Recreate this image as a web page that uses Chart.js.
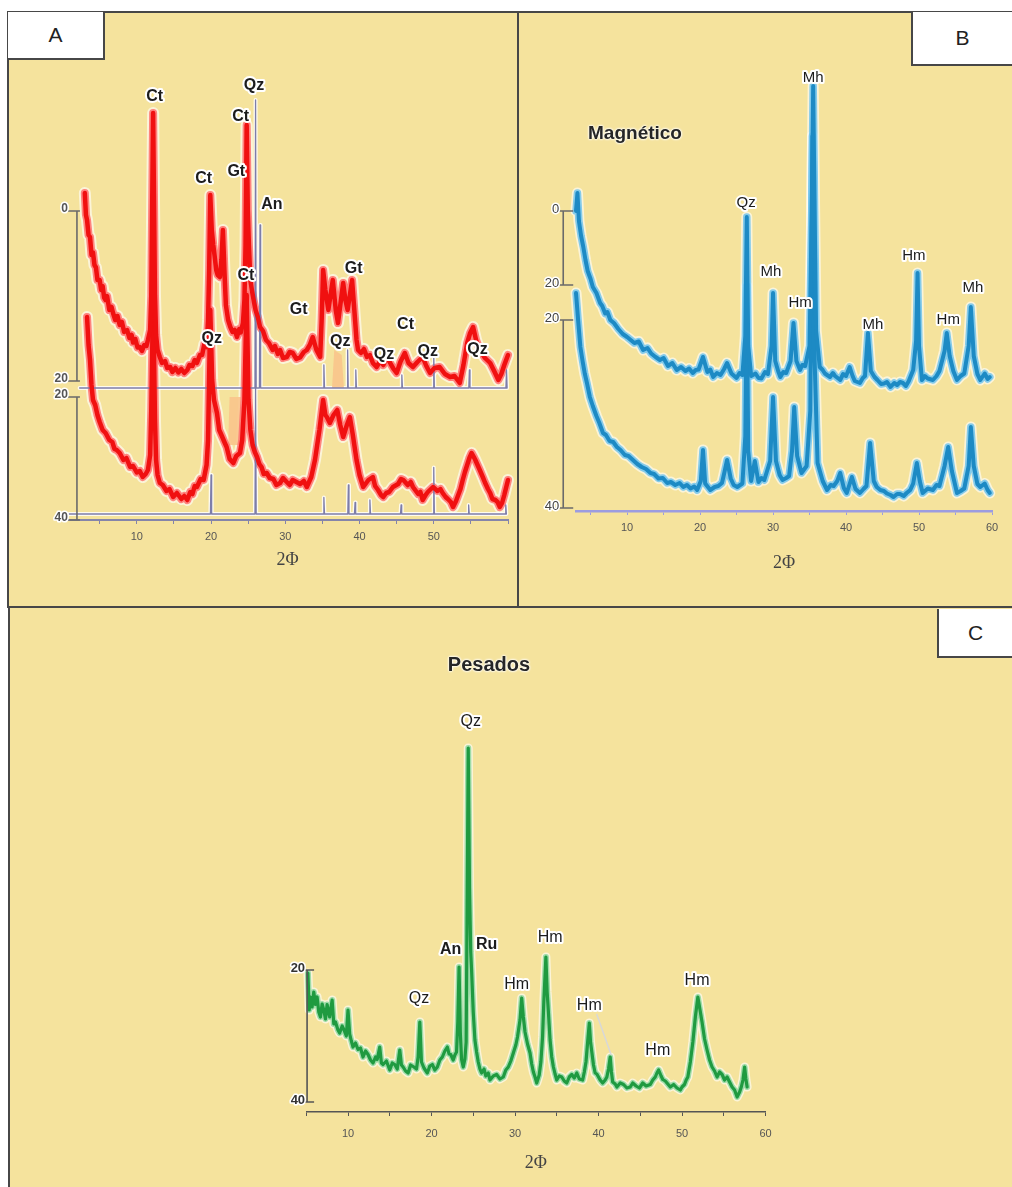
<!DOCTYPE html>
<html>
<head>
<meta charset="utf-8">
<script src="https://cdn.jsdelivr.net/npm/chart.js@4.4.0/dist/chart.umd.min.js"></script>
<style>
  body { margin: 0; width: 1012px; height: 1187px; background: #fff; position: relative; overflow: hidden;
         font-family: Arial, "Liberation Sans", sans-serif; }
  .panel { position: absolute; background: #F5E39D; }
  .rule { position: absolute; background: #474747; z-index: 5; }
  .tag { position: absolute; background: #fff; color: #222; font-size: 21px; z-index: 6;
         display: flex; align-items: center; justify-content: center; box-sizing: border-box; border: 0 solid #474747; }
  .heading { position: absolute; transform: translate(-50%, -50%); font-weight: bold; color: #262626; white-space: nowrap;
             text-shadow: 0 0 2px #fff, 0 0 2px #fff, 0 0 3px #fff; z-index: 4; }
  canvas { position: absolute; z-index: 3; }
</style>
</head>
<body>
<div class="panel" style="left:8px;top:12px;width:510px;height:595px"></div>
<div class="panel" style="left:518px;top:12px;width:494px;height:595px"></div>
<div class="panel" style="left:9px;top:607px;width:1003px;height:580px"></div>

<div class="rule" style="left:7px;top:11px;width:1005px;height:2px"></div>
<div class="rule" style="left:7px;top:11px;width:2px;height:597px"></div>
<div class="rule" style="left:517px;top:11px;width:2px;height:597px"></div>
<div class="rule" style="left:7px;top:606px;width:1005px;height:2px"></div>
<div class="rule" style="left:8px;top:606px;width:2px;height:581px"></div>

<div class="tag" style="left:8px;top:12px;width:97px;height:48px;border-right-width:2px;border-bottom-width:2px">A</div>
<div class="tag" style="left:911px;top:12px;width:101px;height:54px;border-left-width:2px;border-bottom-width:2px">B</div>
<div class="tag" style="left:937px;top:609px;width:75px;height:49px;border-left-width:2px;border-bottom-width:2px">C</div>

<div class="heading" style="left:635px;top:133px;font-size:19px">Magnético</div>
<div class="heading" style="left:489px;top:664px;font-size:20px">Pesados</div>

<canvas id="chartA" width="510" height="595" style="left:8px;top:12px"></canvas>
<canvas id="chartB" width="494" height="595" style="left:518px;top:12px"></canvas>
<canvas id="chartC" width="1004" height="580" style="left:8px;top:607px"></canvas>

<script>
// ---------- panel A (red patterns) ----------
const thetaA_top = [3.0,3.15,3.3,3.5,3.7,3.9,4.1,4.3,4.5,4.7,5.0,5.2,5.4,5.6,5.8,6.0,6.3,6.6,6.8,7.1,7.4,7.7,8.0,8.3,8.7,9.0,9.3,9.5,9.8,10.1,10.4,10.7,11.0,11.3,11.5,11.8,11.95,12.2,12.45,12.6,12.8,13.1,13.4,13.8,14.1,14.5,14.8,15.2,15.6,16.0,16.4,16.8,17.1,17.5,17.8,18.1,18.5,18.8,19.1,19.4,19.6,19.75,19.9,20.1,20.3,20.5,20.7,20.9,21.2,21.4,21.6,21.8,22.0,22.3,22.6,22.9,23.2,23.5,23.8,24.0,24.3,24.5,24.65,24.8,24.95,25.1,25.3,25.5,25.8,26.0,26.3,26.6,27.0,27.4,27.8,28.3,28.6,29.0,29.3,29.7,30.2,30.6,31.0,31.5,32.0,32.5,32.9,33.3,33.7,34.2,34.7,34.9,35.1,35.4,35.8,36.1,36.4,36.8,37.1,37.5,37.8,38.1,38.4,38.7,39.0,39.3,39.6,39.8,40.2,40.6,41.0,41.4,41.8,42.3,42.8,43.2,43.7,44.2,44.6,45.0,45.5,46.1,46.6,47.2,47.8,48.5,49.0,49.5,50.1,50.8,51.5,52.2,52.8,53.5,54.0,54.5,54.9,55.3,55.7,56.2,56.9,57.6,58.2,58.7,59.1,59.5,60.0]
const countsA_top = [65.4,61,60,57,56.6,53,53.5,51,50.5,48,48,46,46.8,44.5,44,44.8,42,42.6,41.4,40,40.8,39,39.6,37.6,38,36.4,37,35.5,36.2,34.5,34.6,33.8,35,34.8,36,38,45,81.4,45,37,34,32.6,31.4,31.8,30.4,30.6,29.6,30.4,29.5,30.2,29.4,30,31,30.8,32,31.4,33,33,35.2,34.6,40,50,65,58,55,52.6,50,49,48.6,52,58,50,43,40,38.6,37.6,38,36.6,38.2,37.5,39.4,44,55,79,62,55,48,46,43.5,42,40.6,38.6,37.8,36,35.4,34,34.8,33.2,34,32.4,32.6,33.6,33.4,32.2,32.5,33.6,34,35,36.6,34,32.6,40,50,46,42,45,48,42,39.4,44,47.4,44,42,45,48,42,36,34,33.4,34.2,32.6,33,31.4,30.6,31.8,31,32.6,31.2,30.2,29.4,31.6,33.4,31.4,30.6,31.6,32.6,30.8,29.4,30.4,30.6,29.2,28.6,28.8,27.4,31,35.4,37.4,38.6,36,34,32.4,31.4,29.6,28,29.2,31,33]

const thetaA_bot = [3.3,3.5,3.7,3.9,4.1,4.4,4.7,5.0,5.4,5.8,6.3,6.7,7.0,7.3,7.7,8.2,8.6,9.1,9.5,10.0,10.4,10.8,11.2,11.5,11.8,11.95,12.2,12.45,12.6,12.8,13.1,13.5,14.0,14.4,14.9,15.4,16.0,16.4,16.8,17.2,17.5,17.8,18.1,18.6,19.0,19.4,19.6,19.9,20.15,20.4,20.8,21.1,21.4,21.8,22.1,22.5,23.0,23.4,23.9,24.2,24.5,24.8,25.05,25.3,25.6,25.9,26.2,26.5,26.8,27.1,27.5,27.9,28.4,28.8,29.3,29.7,30.2,30.6,31.0,31.5,32.0,32.5,32.9,33.5,34.0,34.6,35.1,35.4,35.6,36.0,36.5,37.0,37.4,37.8,38.3,38.7,39.1,39.6,40.0,40.5,40.9,41.2,41.8,42.1,42.5,42.9,43.2,43.6,44.0,44.5,45.2,45.6,45.9,46.5,46.9,47.2,47.9,48.2,48.5,48.9,49.2,49.9,50.5,50.9,51.2,51.6,51.9,52.3,52.6,53.0,53.3,53.6,53.9,54.2,54.5,54.8,55.1,55.4,55.6,55.9,56.2,56.6,56.9,57.3,57.6,57.9,58.3,58.6,58.9,59.2,59.5,59.8,60.0]
const countsA_bot = [40.6,35,32,27,24,23,21,19.6,18,17.4,16,15.6,14.2,14,13.4,12,12.4,10.6,10.8,9.5,9.8,8.6,9.2,10,13,22,45,20,12,9,7.4,7,5.8,6.2,4.6,5.4,4.2,4.8,4,5.6,5.2,6.8,6.6,8.2,8,11,16,42,28,24,21.4,18,17,15.6,14.6,12.2,11.4,12.8,13.4,16,24,45,24,18,15,13.6,12.6,11.2,10.6,9.2,9.4,8.4,8.2,7,7.4,8.4,7.6,7,8,7.6,7.2,7.8,6.6,8.6,12,18,24,21,20.6,19.4,21,22,19,16.6,19,20.6,17,12,9,6.6,7.4,8,8.6,6.8,6,5,4.6,5.4,5.6,6.6,7.2,8.2,8,7,7.6,6.6,5.2,5.6,4,5,5.6,6.6,5.8,6.2,5.4,4.6,4.2,3.6,2.6,3.8,5,6.2,8,9.6,11,12.4,13.4,12.6,12,11,10,8.6,7.5,6.2,5.4,4.2,4,3.6,2.6,3.4,5,6.8,8]

// reference stick patterns (base level, positions, peak tops)
const refBaseA = [26.4, 1.2]
const sticksA_top = [20.0, 26.0, 26.6, 35.2, 38.4, 39.5, 45.7, 50.0, 54.8, 59.8]
const sticksA_topH = [38, 84, 59, 31, 34, 30, 29, 33, 30, 30]
const sticksA_bot = [20.0, 26.0, 35.2, 38.5, 39.4, 41.4, 45.6, 50.0, 54.7, 59.7]
const sticksA_botH = [9, 26.4, 4.5, 7, 3.5, 4, 3, 10.5, 3, 3]

// pale orange patches
const orangeA1x = [36.3, 36.6, 37.6, 37.9]
const orangeA1y = [26.4, 34, 33, 26.4]
const orangeA2x = [22.3, 22.5, 24.0, 24.2]
const orangeA2y = [15, 24.6, 24.6, 15]

const labelsA = [['Ct',12.4,84.6],['Qz',25.8,86.8],['Ct',24.0,80.6],['Ct',19.0,68.2],['Gt',23.4,69.6],['An',28.2,63],
  ['Ct',24.7,48.8],['Gt',31.8,42],['Gt',39.2,50.2],['Qz',20.1,36.2],['Qz',37.4,35.6],['Ct',46.2,39],['Qz',43.3,33],
  ['Qz',49.2,33.6],['Qz',55.9,34]]
const barsA = [{x: 1.94, from: 61.8, to: 27.8, labels: ['0', '20']}, {x: 1.94, from: 24.6, to: 0, labels: ['20', '40']}]

// ---------- panel B (blue patterns) ----------
const thetaB_top = [3.0,3.2,3.4,3.7,4.0,4.3,4.6,5.0,5.3,5.8,6.3,6.6,7.0,7.3,7.7,8.2,8.8,9.4,10.0,10.5,11.0,11.6,12.2,12.8,13.3,13.9,14.5,15.0,15.6,16.2,16.8,17.4,18.0,18.5,19.0,19.4,19.8,20.4,21.0,21.4,21.8,22.3,22.8,23.3,23.7,24.3,25.0,25.4,25.8,26.2,26.4,26.6,27.0,27.6,28.0,28.4,28.9,29.3,29.8,30.0,30.3,30.7,31.0,31.4,31.8,32.4,32.8,33.2,33.7,34.0,34.4,35.0,35.3,35.5,35.7,35.9,36.4,36.8,37.1,37.8,38.2,38.5,39.2,39.6,40.0,40.5,40.9,41.2,41.9,42.3,42.6,43.0,43.4,43.9,44.3,44.8,45.2,45.6,46.1,46.6,47.0,47.4,47.8,48.2,48.6,49.2,49.6,49.8,50.0,50.4,50.8,51.2,51.9,52.4,52.8,53.5,53.8,54.2,54.7,55.2,55.7,56.2,56.8,57.1,57.5,58.0,58.4,59.0,59.4,59.7]
const countsB_top = [60,63.6,58,55,52.8,50.2,48,46.4,44.8,43.6,41.6,41,39.5,39.8,38.2,37.6,36.4,35.4,34.8,34.2,33.6,33.9,32.2,32.6,31.5,30.8,30.2,30.6,29,29.6,28.2,28.8,28,28.5,27.6,28.2,28.3,30.8,27.8,28.3,26.8,27.6,27.2,28.4,29.6,27.5,26.6,27.6,27.2,35,58.8,33,27,27.5,26.6,26.5,27.8,27.4,33,43.6,30,28,26.8,27.8,27.6,30,37.6,30,28.2,29.2,29,33,60,85,60,36,28.8,28.2,27.5,26.8,27.6,27,26.2,27.4,27,28.8,27,26,25.6,26.6,27,35.6,28,26.8,26.2,25.4,25.5,25.8,24.8,25.6,25.2,25.8,25.6,25,26,28.2,34,47.6,33,26.2,27,26.5,26.2,27,28,32,35.6,31,28,26.2,27,27.5,33,40.8,31,27.4,26.2,27.5,26.4,26.8]

const thetaB_bot = [3.0,3.3,3.6,3.9,4.2,4.5,4.9,5.3,5.8,6.2,6.7,7.1,7.6,8.1,8.6,9.1,9.7,10.2,10.8,11.4,12.0,12.6,13.2,13.7,14.3,14.9,15.5,16.0,16.6,17.2,17.7,18.2,18.7,19.2,19.6,20.1,20.4,20.7,21.4,22.0,22.5,23.0,23.3,23.7,24.2,24.6,25.1,25.8,26.2,26.4,26.6,27.0,27.5,28.0,28.4,28.8,29.6,30.0,30.4,30.9,31.3,31.8,32.2,32.6,32.9,33.3,33.9,34.6,35.1,35.4,35.7,36.1,36.8,37.4,37.9,38.3,38.8,39.2,39.7,40.1,40.8,41.3,41.9,42.4,42.8,43.3,43.8,44.2,44.7,45.2,45.6,46.1,46.5,47.0,47.4,47.9,48.3,48.8,49.2,49.7,50.1,50.5,51.2,51.9,52.4,52.8,53.5,54.0,54.5,55.2,55.7,56.2,56.8,57.1,57.5,58.0,58.4,59.0,59.4,59.7]
const countsB_bot = [43.6,38,32.8,30,27.5,25.6,22.8,21,19,17.6,15.6,15.2,14,13.8,12.8,12.2,11.2,11,10.2,9.4,8.8,8.4,7.6,7.4,6.5,6.6,5.6,5.8,5.2,5.6,4.8,5.2,4.5,4.9,4.2,6,12.2,5.5,4.2,4.8,5,5.6,7.5,10.2,6.5,5.2,4.8,5.5,15,45,12,6,10,5.8,6.6,6.2,10,22.8,10,7.2,6.2,6.6,7,12,20.8,11,7.6,9,20,75,30,9.6,6,4.2,5.2,5,6,7.6,4.6,3.6,6.8,4.4,3.6,4.4,5,13.6,6,4.8,4.2,4,3.5,3.2,2.8,3.4,3.4,3,3.6,4.2,5.5,9.6,6,3.6,4.5,4.2,5.2,5,9,12.8,8,3.6,4,4.5,9,16.8,9,5.4,4.8,5.5,4.2,3.6]

const labelsB = [['Mh',35.5,86.6],['Qz',26.3,61.6],['Mh',29.7,47.8],['Hm',33.7,41.6],['Mh',43.7,37.2],['Hm',49.3,51],['Hm',54.0,38.2],['Mh',57.4,44.6]]
const barsB = [{x: 1.25, from: 60, to: 45.2, labels: ['0', '20']}, {x: 1.25, from: 38.2, to: 0.6, labels: ['20', '40']}]

// ---------- panel C (green pattern) ----------
const thetaC = [5.2,5.35,5.5,5.7,5.9,6.1,6.3,6.5,6.7,6.9,7.1,7.3,7.5,7.8,8.1,8.3,8.5,8.8,9.0,9.3,9.5,9.8,10.0,10.2,10.4,10.6,10.9,11.2,11.5,11.8,12.1,12.4,12.7,13.0,13.3,13.5,13.8,14.0,14.2,14.6,15.0,15.3,15.6,15.9,16.2,16.4,16.6,16.9,17.2,17.5,17.9,18.2,18.4,18.6,18.8,19.1,19.5,19.8,20.1,20.4,20.7,21.0,21.3,21.6,21.9,22.1,22.3,22.6,22.8,23.0,23.15,23.3,23.45,23.6,23.8,24.0,24.15,24.4,24.55,24.7,24.8,25.0,25.2,25.4,25.6,25.8,26.0,26.3,26.5,26.8,27.0,27.4,27.8,28.2,28.6,28.9,29.2,29.5,29.8,30.1,30.3,30.6,30.8,31.0,31.2,31.5,31.8,32.0,32.2,32.4,32.6,32.9,33.1,33.3,33.45,33.7,33.85,34.0,34.2,34.4,34.6,34.8,35.0,35.3,35.6,35.9,36.2,36.5,36.8,37.1,37.4,37.7,38.1,38.3,38.5,38.7,38.9,39.05,39.2,39.4,39.6,39.8,40.0,40.2,40.5,40.8,41.0,41.2,41.4,41.55,41.7,42.0,42.2,42.6,43.0,43.4,43.8,44.1,44.5,44.9,45.3,45.7,46.2,46.5,46.8,47.0,47.2,47.5,47.7,48.0,48.2,48.6,49.0,49.4,49.8,50.0,50.3,50.5,50.7,51.0,51.3,51.6,51.9,52.1,52.4,52.7,53.0,53.3,53.6,53.9,54.2,54.5,54.8,55.1,55.4,55.7,56.0,56.3,56.6,56.9,57.1,57.3,57.5,57.65,57.8]
const countsC = [27.8,20.4,23,21,24,21.5,23,20,19,21.6,20.4,18.6,21.5,19,22.4,17.6,18,16.4,15.8,17.2,16.5,15.2,20.4,15.6,14.2,13,13.8,12.5,12.8,11,12.2,11.5,10.4,9.8,11,10.5,13,9.8,9.5,10.2,8.4,9.8,9.5,8.6,12.4,9.4,9,8.2,7.8,9.4,9,8.6,11,18,10,8.8,7.8,9.2,9.5,8.4,9,10.4,11,12.2,13,11.6,11.5,10.4,11.4,12,18,29,16,10.5,9,10.6,14,72.8,45,32,28.4,20,14.4,12,10,8.6,7.8,8.6,7.2,7.8,6.4,7.2,7.5,6.6,7,8.4,9,10.2,11.8,13.4,15,18.4,22.8,19,16,13.6,11.8,9.6,8,7,5.8,7.4,10,15,22,31,24,20,14.4,11,9,7.6,6.4,7.2,7,6.2,5.8,7,7.5,6.8,7.8,6.6,6.4,8,10,14,17.8,14,12,9.4,7.8,7.6,7,6.4,5.8,6.4,7,8.6,11,8,6,5.6,5,5.8,5.5,4.8,5,5.8,5.2,4.8,5.8,5.2,5.5,6.4,7,7.8,8.4,7.2,6.5,6.2,5.8,5,5.5,4.8,4.4,5,5.5,6.4,7,10,14,19,23,21,18,14.6,12.4,10.4,9,8.2,7,8,7.5,6.4,7,6,5,4.4,3,4,5,6.4,9,6.6,5]
const leaderCx = [39.8, 41.5]
const leaderCy = [19.5, 11.5]

const labelsC = [['Qz',24.7,78],['An',22.3,32.4],['Ru',26.6,33.4],['Hm',34.2,34.8],['Hm',30.2,25.4],['Qz',18.5,22.6],
  ['Hm',38.9,21.2],['Hm',47.1,12.2],['Hm',51.8,26.2]]
const boldLabelsC = ['An', 'Ru']
const barsC = [{x: 5.1, from: 28.4, to: 2, labels: ['20', '40']}]

// ---------- helpers ----------
function pts(xs, ys) {
    return xs.map((x, i) => ({x: x, y: ys[i]}))
}

function stickPattern(base, xs, hs, from, to) {
    let out = [{x: from, y: base}]
    for (let i = 0; i < xs.length; i++) {
        out.push({x: xs[i] - 0.08, y: base}, {x: xs[i], y: hs[i]}, {x: xs[i] + 0.08, y: base})
    }
    out.push({x: to, y: base})
    return out
}

function line(data, color, width, order) {
    return {data: data, borderColor: color, borderWidth: width, order: order, pointRadius: 0, tension: 0,
        fill: false, clip: false, borderJoinStyle: 'round', borderCapStyle: 'round'}
}

// pattern drawn as a noisy-looking band: soft white halo, light fringe, saturated core
function band(data, core, fringe, widths) {
    return [line(data, core, widths[0], 0), line(data, fringe, widths[1], 10), line(data, 'rgba(255,255,255,0.6)', widths[2], 20)]
}

function xAxis(min, max, o) {
    return {
        type: 'linear', min: min, max: max,
        border: {display: true, color: o.axisColor, width: o.axisWidth},
        grid: {display: true, drawOnChartArea: false, drawTicks: true, tickLength: 4, color: o.axisColor},
        ticks: {stepSize: 5, includeBounds: false, autoSkip: false, maxRotation: 0, padding: o.tickPad, color: '#555',
            font: {family: 'Arial', size: 11},
            callback: v => (v % 10 === 0 && v <= o.lastLabel) ? String(v) : ''},
        title: {display: true, text: '2Φ', color: '#444',
            font: {family: '"Liberation Serif", "Times New Roman", serif', size: 18},
            padding: {top: o.titlePad, bottom: 4}}
    }
}

function decor(bars, labels, st) {
    return {
        id: 'decor',
        afterDatasetsDraw(chart) {
            const ctx = chart.ctx
            const xs = chart.scales.x, ys = chart.scales.y
            ctx.save()
            ctx.lineJoin = 'round'
            bars.forEach(b => {
                const px = xs.getPixelForValue(b.x)
                const y1 = ys.getPixelForValue(b.from), y2 = ys.getPixelForValue(b.to)
                ctx.strokeStyle = st.barColor
                ctx.lineWidth = 1.6
                ctx.beginPath()
                ctx.moveTo(px, y1); ctx.lineTo(px, y2)
                ctx.moveTo(px - st.tickL, y1); ctx.lineTo(px + st.tickR, y1)
                ctx.moveTo(px - st.tickL, y2); ctx.lineTo(px + st.tickR, y2)
                ctx.stroke()
                ctx.font = st.barFont
                ctx.textAlign = 'right'
                ctx.textBaseline = 'middle'
                ;[[b.labels[0], y1], [b.labels[1], y2]].forEach(([t, yy]) => {
                    ctx.strokeStyle = '#fff'; ctx.lineWidth = 3
                    ctx.strokeText(t, px - st.labelGap, yy - 2)
                    ctx.fillStyle = st.barText
                    ctx.fillText(t, px - st.labelGap, yy - 2)
                })
            })
            ctx.textAlign = 'center'
            ctx.textBaseline = 'middle'
            labels.forEach(l => {
                const bold = st.allBold || (st.boldSet && st.boldSet.includes(l[0]))
                ctx.font = (bold ? 'bold ' : '') + st.labelSize + 'px Arial'
                const px = xs.getPixelForValue(l[1]), py = ys.getPixelForValue(l[2])
                ctx.strokeStyle = '#fff'; ctx.lineWidth = 4
                ctx.strokeText(l[0], px, py)
                ctx.fillStyle = '#1c1c1c'
                ctx.fillText(l[0], px, py)
            })
            ctx.restore()
        }
    }
}

function baseOptions(padding, x, ymax) {
    return {
        responsive: false, animation: false, events: [],
        layout: {padding: padding},
        plugins: {legend: {display: false}, tooltip: {enabled: false}},
        scales: {x: x, y: {type: 'linear', display: false, min: 0, max: ymax}}
    }
}

// ---------- chart A ----------
const redA = ['#f01010', 'rgba(255,110,110,0.85)', [4.5, 8, 12]]
const refA = [
    line(stickPattern(refBaseA[0], sticksA_top, sticksA_topH, 2.3, 59.2), '#7d7daa', 1.3, 1),
    line(stickPattern(refBaseA[1], sticksA_bot, sticksA_botH, 0.9, 59.2), '#7d7daa', 1.3, 1),
    line(stickPattern(refBaseA[0], sticksA_top, sticksA_topH, 2.3, 59.2), 'rgba(255,255,255,0.85)', 4, 15),
    line(stickPattern(refBaseA[1], sticksA_bot, sticksA_botH, 0.9, 59.2), 'rgba(255,255,255,0.85)', 4, 15)
]
const orange = (xs, ys, base) => Object.assign(line(pts(xs, ys), 'rgba(0,0,0,0)', 0, 12),
    {fill: {value: base}, backgroundColor: 'rgba(250,196,140,0.9)'})

new Chart(document.getElementById('chartA'), {
    type: 'line',
    data: {datasets: [
        ...band(pts(thetaA_top, countsA_top), redA[0], redA[1], redA[2]),
        ...band(pts(thetaA_bot, countsA_bot), redA[0], redA[1], redA[2]),
        ...refA,
        orange(orangeA1x, orangeA1y, refBaseA[0]),
        orange(orangeA2x, orangeA2y, 15)
    ]},
    options: baseOptions({left: 59, right: 10, top: 8, bottom: 32.2},
        xAxis(0.6, 60, {axisColor: '#8585aa', axisWidth: 2, tickPad: 6, titlePad: 0, lastLabel: 55}), 100),
    plugins: [decor(barsA, labelsA, {barColor: '#6a6a6a', barText: '#555', barFont: 'bold 12px Arial',
        tickL: 9, tickR: 3, labelGap: 9, labelSize: 16, allBold: true})]
})

// ---------- chart B ----------
const blueB = ['#1d8ac4', 'rgba(110,195,238,0.85)', [4, 7.5, 11]]
new Chart(document.getElementById('chartB'), {
    type: 'line',
    data: {datasets: [
        ...band(pts(thetaB_top, countsB_top), blueB[0], blueB[1], blueB[2]),
        ...band(pts(thetaB_bot, countsB_bot), blueB[0], blueB[1], blueB[2])
    ]},
    options: baseOptions({left: 58, right: 20, top: 9, bottom: 29.2},
        xAxis(3, 60, {axisColor: '#9c9ce0', axisWidth: 2.5, tickPad: 6, titlePad: 12, lastLabel: 60}), 98),
    plugins: [decor(barsB, labelsB, {barColor: '#6a6a6a', barText: '#444', barFont: '13px Arial',
        tickL: 10, tickR: 10, labelGap: 4, labelSize: 15, allBold: false})]
})

// ---------- chart C ----------
const greenC = ['#1f9a40', 'rgba(140,215,160,0.85)', [3.2, 6, 9]]
new Chart(document.getElementById('chartC'), {
    type: 'line',
    data: {datasets: [
        ...band(pts(thetaC, countsC), greenC[0], greenC[1], greenC[2]),
        line(pts(leaderCx, leaderCy), '#d8d8d8', 1.5, 1)
    ]},
    options: baseOptions({left: 298.25, right: 246.5, top: 5, bottom: 9.2},
        xAxis(5, 60, {axisColor: '#555', axisWidth: 1.5, tickPad: 11, titlePad: 1, lastLabel: 60}), 100),
    plugins: [decor(barsC, labelsC, {barColor: '#555', barText: '#333', barFont: 'bold 13px Arial',
        tickL: 2, tickR: 7, labelGap: 2, labelSize: 16, allBold: false, boldSet: boldLabelsC})]
})
</script>
</body>
</html>
